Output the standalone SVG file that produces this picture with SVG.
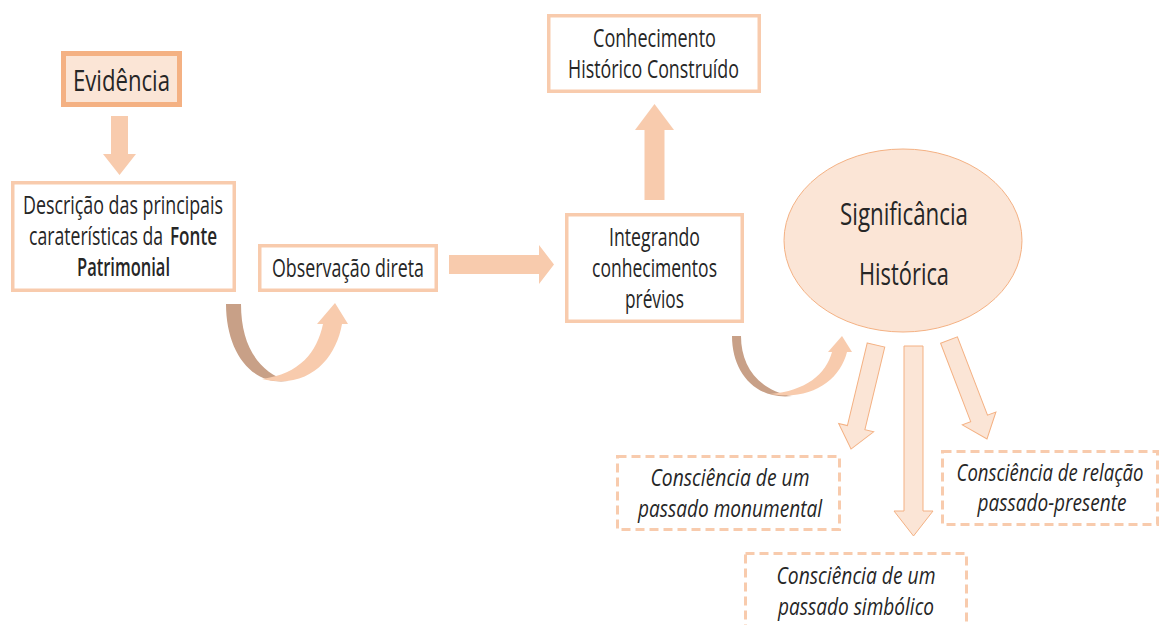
<svg xmlns="http://www.w3.org/2000/svg" width="1161" height="625" viewBox="0 0 1161 625">
<style>
.bg{fill:#ffffff}
.box{fill:#ffffff;stroke:#F8CBAD;stroke-width:3.5}
.ev{fill:#FBE5D6;stroke:#F4B183;stroke-width:5}
.dash{fill:#ffffff;stroke:#F8CBAD;stroke-width:3;stroke-dasharray:9 5}
.arr{fill:#F8CBAD}
.arr2{fill:#FBE5D6;stroke:#F4B183;stroke-width:1}
.shade{fill:#C8A087}
.t{font-family:"Open Sans","Noto Sans","Liberation Sans",sans-serif;fill:#262626;text-anchor:middle;font-size:25px}
.s{text-anchor:start}
.it{font-style:italic;font-size:24px}
.big{font-size:31px}
.ev-t{font-size:30px}
.b{font-weight:600}
</style>
<rect class="bg" x="0" y="0" width="1161" height="625"/>

<g id="connectors">
  <polygon class="arr" points="111,116 128,116 128,154 136,154 119.5,175 103,154 111,154"/>
  <polygon class="arr" points="449,255 539,255 539,245 554,264.5 539,284 539,274 449,274"/>
  <polygon class="arr" points="644.5,200 644.5,130 635,130 654.5,104 674,130 664.5,130 664.5,200"/>
  <g id="curve1">
    <path class="shade" d="M226,304 L241,304 C241,345 258,372 288,381 C250,386 226,350 226,304 Z"/>
    <path class="arr" d="M262,379 C310,390 336,358 342,324 L348,324 L335,303 L317,324 L323,324 C317,352 300,374 262,379 Z"/>
  </g>
  <g id="curve2">
    <path class="shade" d="M732,336 L741,336 C741,366 758,390 792,396 C755,400 732,372 732,336 Z"/>
    <path class="arr" d="M770,394 C812,401 840,380 847,352 L852,352 L842,336 L828,352 L832,352 C826,374 806,391 770,394 Z"/>
  </g>
  <polygon class="arr2" points="-9,0 9,0 9,85 18,85 0,107 -18,85 -9,85" transform="translate(876,345) rotate(13.5)"/>
  <polygon class="arr2" points="904,346 923,346 923,511 933,511 913.5,536 894,511 904,511"/>
  <polygon class="arr2" points="-9,0 9,0 9,84 18,84 0,106 -18,84 -9,84" transform="translate(949,340) rotate(-21)"/>
</g>

<g id="evidencia">
  <rect class="ev" x="63.5" y="53.5" width="116" height="51"/>
  <text class="t ev-t" transform="translate(121.5,91) scale(0.72,1)" textLength="134.7" lengthAdjust="spacingAndGlyphs">Evidência</text>
</g>

<g id="descricao">
  <rect class="box" x="12.75" y="182.75" width="221.5" height="107.5"/>
  <text class="t" transform="translate(123,214) scale(0.72,1)" textLength="277.8" lengthAdjust="spacingAndGlyphs">Descrição das principais</text>
  <text class="t s" transform="translate(29,245) scale(0.72,1)" textLength="186.1" lengthAdjust="spacingAndGlyphs">caraterísticas da</text>
  <text class="t s b" transform="translate(170,245) scale(0.72,1)" textLength="65.3" lengthAdjust="spacingAndGlyphs">Fonte</text>
  <text class="t b" transform="translate(123.5,276) scale(0.72,1)" textLength="129.2" lengthAdjust="spacingAndGlyphs">Patrimonial</text>
</g>

<g id="observacao">
  <rect class="box" x="259.75" y="245.75" width="176.5" height="44.5"/>
  <text class="t" transform="translate(348,277) scale(0.72,1)" textLength="211.1" lengthAdjust="spacingAndGlyphs">Observação direta</text>
</g>

<g id="integrando">
  <rect class="box" x="566.75" y="214.75" width="175.5" height="106.5"/>
  <text class="t" transform="translate(654.5,246) scale(0.72,1)" textLength="126.4" lengthAdjust="spacingAndGlyphs">Integrando</text>
  <text class="t" transform="translate(654.5,277) scale(0.72,1)" textLength="173.6" lengthAdjust="spacingAndGlyphs">conhecimentos</text>
  <text class="t" transform="translate(654.5,308) scale(0.72,1)" textLength="81.9" lengthAdjust="spacingAndGlyphs">prévios</text>
</g>

<g id="conhecimento">
  <rect class="box" x="548.75" y="15.75" width="210.5" height="75.5"/>
  <text class="t" transform="translate(654.5,47) scale(0.72,1)" textLength="170.8" lengthAdjust="spacingAndGlyphs">Conhecimento</text>
  <text class="t" transform="translate(653.5,78) scale(0.72,1)" textLength="237.5" lengthAdjust="spacingAndGlyphs">Histórico Construído</text>
</g>

<g id="significancia">
  <ellipse cx="903" cy="240.5" rx="119" ry="91.5" fill="#FBE5D6" stroke="#F4B183" stroke-width="1"/>
  <text class="t big" transform="translate(904,225) scale(0.72,1)" textLength="177.8" lengthAdjust="spacingAndGlyphs">Significância</text>
  <text class="t big" transform="translate(904,285) scale(0.72,1)" textLength="125" lengthAdjust="spacingAndGlyphs">Histórica</text>
</g>

<g id="monumental">
  <rect class="dash" x="617.5" y="456.5" width="222" height="73"/>
  <text class="t it" transform="translate(730,486) scale(0.72,1)" textLength="220.8" lengthAdjust="spacingAndGlyphs">Consciência de um</text>
  <text class="t it" transform="translate(730,517) scale(0.72,1)" textLength="255.6" lengthAdjust="spacingAndGlyphs">passado monumental</text>
</g>

<g id="relacao">
  <rect class="dash" x="942.5" y="451.5" width="215" height="73"/>
  <text class="t it" transform="translate(1050,481) scale(0.72,1)" textLength="259.7" lengthAdjust="spacingAndGlyphs">Consciência de relação</text>
  <text class="t it" transform="translate(1052,511) scale(0.72,1)" textLength="206.9" lengthAdjust="spacingAndGlyphs">passado-presente</text>
</g>

<g id="simbolico">
  <rect class="dash" x="745.5" y="553.5" width="221" height="85"/>
  <text class="t it" transform="translate(856,584) scale(0.72,1)" textLength="220.8" lengthAdjust="spacingAndGlyphs">Consciência de um</text>
  <text class="t it" transform="translate(856,615) scale(0.72,1)" textLength="216.7" lengthAdjust="spacingAndGlyphs">passado simbólico</text>
</g>
</svg>
